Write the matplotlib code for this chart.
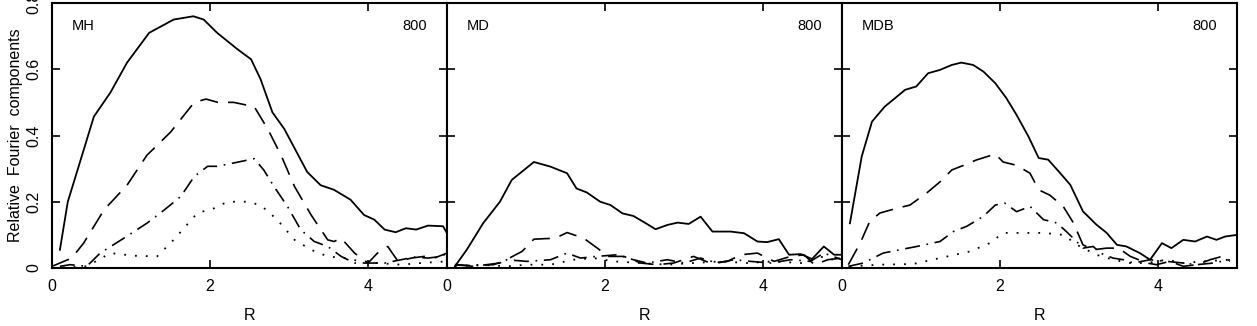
import matplotlib.pyplot as plt
import numpy as np

plt.rcParams['font.family'] = ['Liberation Sans', 'DejaVu Sans']

# ---- data (R, relative Fourier amplitude) ----
# MH
mh_solid_r = [0.1, 0.2, 0.38, 0.53, 0.74, 0.95, 1.23, 1.54, 1.79, 1.92, 2.09, 2.35, 2.52, 2.64,
              2.79, 2.94, 3.23, 3.40, 3.57, 3.78, 3.95, 4.08, 4.21, 4.35, 4.48, 4.61, 4.76, 4.95, 5.0]
mh_solid_a = [0.055, 0.2, 0.34, 0.457, 0.53, 0.62, 0.71, 0.75, 0.76, 0.75, 0.71, 0.66, 0.63, 0.57,
              0.47, 0.42, 0.29, 0.25, 0.236, 0.206, 0.16, 0.146, 0.116, 0.108, 0.12, 0.116, 0.128, 0.126, 0.105]
mh_dash_r = [0.0, 0.25, 0.4, 0.66, 0.95, 1.2, 1.5, 1.8, 1.95, 2.1, 2.3, 2.56, 2.73, 2.9, 3.07, 3.28,
             3.49, 3.57, 3.66, 3.83, 4.0, 4.12, 4.25, 4.38, 4.55, 4.71, 4.84, 5.0]
mh_dash_a = [0.005, 0.03, 0.075, 0.176, 0.25, 0.34, 0.41, 0.5, 0.51, 0.5, 0.5, 0.487, 0.42, 0.34, 0.246,
             0.16, 0.085, 0.08, 0.09, 0.045, 0.015, 0.045, 0.065, 0.02, 0.03, 0.035, 0.03, 0.045]
mh_dd_r = [0.1, 0.23, 0.44, 0.61, 0.91, 1.2, 1.42, 1.63, 1.8, 1.97, 2.09, 2.3, 2.56, 2.68, 2.81, 2.98,
           3.15, 3.32, 3.49, 3.66, 3.83, 4.0, 4.21, 4.42, 4.59, 4.76, 4.93, 5.0]
mh_dd_a = [0.005, 0.01, 0.005, 0.045, 0.09, 0.135, 0.175, 0.216, 0.276, 0.307, 0.307, 0.317, 0.33, 0.296,
           0.246, 0.186, 0.115, 0.08, 0.065, 0.035, 0.015, 0.015, 0.015, 0.025, 0.033, 0.03, 0.035, 0.045]
mh_dot_r = [0.0, 0.44, 0.74, 1.04, 1.33, 1.54, 1.84, 2.05, 2.22, 2.47, 2.64, 2.85, 3.07, 3.28, 3.49,
            3.7, 3.91, 4.12, 4.42, 4.67, 5.0]
mh_dot_a = [0.0, 0.005, 0.045, 0.037, 0.035, 0.085, 0.166, 0.18, 0.2, 0.2, 0.19, 0.146, 0.085, 0.055,
            0.035, 0.03, 0.02, 0.015, 0.01, 0.015, 0.02]

# MD
md_solid_r = [0.1, 0.25, 0.46, 0.67, 0.82, 1.1, 1.31, 1.52, 1.64, 1.77, 1.94, 2.07, 2.22, 2.36, 2.51,
              2.64, 2.79, 2.92, 3.06, 3.21, 3.36, 3.59, 3.76, 3.93, 4.05, 4.2, 4.33, 4.48, 4.62, 4.77, 4.9, 5.0]
md_solid_a = [0.005, 0.055, 0.136, 0.2, 0.266, 0.32, 0.306, 0.286, 0.24, 0.228, 0.2, 0.19, 0.165, 0.157,
              0.136, 0.117, 0.13, 0.137, 0.133, 0.155, 0.11, 0.11, 0.105, 0.08, 0.078, 0.087, 0.04, 0.042,
              0.027, 0.065, 0.04, 0.04]
md_dash_r = [0.1, 0.33, 0.67, 0.95, 1.1, 1.37, 1.52, 1.73, 1.92, 2.03, 2.24, 2.45, 2.66, 2.87, 3.12, 3.33,
             3.55, 3.72, 3.93, 4.14, 4.35, 4.52, 4.65, 4.82, 5.0]
md_dash_a = [0.01, 0.005, 0.015, 0.05, 0.087, 0.09, 0.107, 0.09, 0.057, 0.035, 0.035, 0.015, 0.01, 0.015,
             0.035, 0.015, 0.02, 0.04, 0.045, 0.02, 0.035, 0.04, 0.01, 0.025, 0.03]
md_dd_r = [0.1, 0.33, 0.59, 0.76, 1.01, 1.31, 1.52, 1.69, 1.9, 2.15, 2.36, 2.53, 2.79, 3.0, 3.21, 3.42,
           3.63, 3.84, 4.1, 4.35, 4.6, 4.77, 5.0]
md_dd_a = [0.01, 0.007, 0.01, 0.025, 0.02, 0.025, 0.045, 0.03, 0.035, 0.04, 0.025, 0.015, 0.025, 0.015,
           0.03, 0.015, 0.025, 0.02, 0.015, 0.025, 0.02, 0.045, 0.025]
md_dot_r = [0.1, 0.42, 0.76, 1.01, 1.31, 1.6, 1.86, 2.11, 2.45, 2.79, 3.12, 3.46, 3.8, 4.14, 4.48, 4.77, 5.0]
md_dot_a = [0.005, 0.01, 0.005, 0.01, 0.01, 0.025, 0.03, 0.02, 0.015, 0.01, 0.015, 0.02, 0.015, 0.02,
            0.015, 0.035, 0.015]

# MDB
mdb_solid_r = [0.1, 0.25, 0.38, 0.54, 0.8, 0.94, 1.09, 1.24, 1.39, 1.51, 1.66, 1.79, 1.94, 2.08, 2.21,
               2.36, 2.49, 2.61, 2.76, 2.89, 3.05, 3.22, 3.35, 3.48, 3.6, 3.77, 3.9, 4.05, 4.17, 4.32,
               4.47, 4.62, 4.74, 4.85, 5.0]
mdb_solid_a = [0.135, 0.337, 0.442, 0.487, 0.538, 0.548, 0.588, 0.598, 0.613, 0.62, 0.613, 0.593, 0.558,
               0.513, 0.462, 0.397, 0.332, 0.327, 0.287, 0.251, 0.171, 0.131, 0.106, 0.07, 0.065, 0.045,
               0.025, 0.075, 0.06, 0.085, 0.08, 0.095, 0.085, 0.095, 0.1]
mdb_dash_r = [0.08, 0.23, 0.35, 0.48, 0.69, 0.86, 1.07, 1.24, 1.39, 1.54, 1.7, 1.94, 2.04, 2.21, 2.38,
              2.49, 2.63, 2.8, 2.93, 3.05, 3.18, 3.35, 3.5, 3.65, 3.86, 3.98, 4.15, 4.32, 4.49, 4.66,
              4.81, 4.91]
mdb_dash_a = [0.01, 0.075, 0.14, 0.166, 0.18, 0.19, 0.226, 0.26, 0.296, 0.31, 0.326, 0.344, 0.32, 0.31,
              0.286, 0.236, 0.22, 0.186, 0.136, 0.07, 0.055, 0.06, 0.06, 0.035, 0.015, 0.01, 0.02, 0.005,
              0.01, 0.025, 0.035, 0.02]
mdb_dd_r = [0.08, 0.27, 0.52, 0.73, 0.99, 1.24, 1.41, 1.58, 1.79, 1.94, 2.06, 2.21, 2.38, 2.55, 2.72,
            2.84, 2.97, 3.05, 3.18, 3.27, 3.43, 3.56, 3.69, 3.9, 4.11, 4.32, 4.49, 4.7, 4.91]
mdb_dd_a = [0.005, 0.015, 0.045, 0.055, 0.067, 0.08, 0.11, 0.126, 0.156, 0.19, 0.196, 0.17, 0.186, 0.146,
            0.136, 0.11, 0.08, 0.06, 0.065, 0.045, 0.03, 0.025, 0.015, 0.025, 0.02, 0.015, 0.01, 0.015, 0.025]
mdb_dot_r = [0.1, 0.48, 0.9, 1.24, 1.62, 1.87, 2.04, 2.3, 2.55, 2.8, 3.01, 3.22, 3.43, 3.65, 3.86, 4.11,
             4.32, 4.57, 4.91]
mdb_dot_a = [0.005, 0.01, 0.012, 0.03, 0.05, 0.075, 0.106, 0.106, 0.106, 0.1, 0.065, 0.04, 0.025, 0.015,
             0.015, 0.025, 0.015, 0.02, 0.025]

panel_names = ['MH', 'MD', 'MDB']
panel_time = '800'
x_ticks = [0, 2, 4]
y_ticks = [0, 0.2, 0.4, 0.6, 0.8]
y_ticklabels = ['0', '0.2', '0.4', '0.6', '0.8']

panels = [
    [(mh_solid_r, mh_solid_a), (mh_dash_r, mh_dash_a), (mh_dd_r, mh_dd_a), (mh_dot_r, mh_dot_a)],
    [(md_solid_r, md_solid_a), (md_dash_r, md_dash_a), (md_dd_r, md_dd_a), (md_dot_r, md_dot_a)],
    [(mdb_solid_r, mdb_solid_a), (mdb_dash_r, mdb_dash_a), (mdb_dd_r, mdb_dd_a), (mdb_dot_r, mdb_dot_a)],
]
styles = [
    dict(linestyle='-', linewidth=1.3),
    dict(linestyle=(0, (11, 6)), linewidth=1.2),
    dict(linestyle=(0, (9, 4, 1, 4)), linewidth=1.2),
    dict(linestyle=(0, (1, 5)), linewidth=1.3),
]

W, H = 1257, 326
fig = plt.figure(figsize=(W / 100, H / 100), dpi=100)

lefts = [52, 447, 842]
width = 395
bottom, top = 268, 3

for i, name in enumerate(panel_names):
    ax = fig.add_axes([lefts[i] / W, 1 - bottom / H, width / W, (bottom - top) / H])
    for (r, a), st in zip(panels[i], styles):
        ax.plot(r, a, color='black', **st)
    ax.set_xlim(0, 5)
    ax.set_ylim(0, 0.8)
    ax.set_xticks(x_ticks)
    ax.set_xticklabels(['0', '2', '4'])
    ax.set_yticks(y_ticks)
    ax.tick_params(direction='in', top=True, right=True, length=6, width=1.2,
                   labelsize=11.5, pad=8)
    for sp in ax.spines.values():
        sp.set_linewidth(1.5)
    if i == 0:
        ax.set_yticklabels(y_ticklabels, rotation=90, va='center')
        ax.set_ylabel('Relative  Fourier  components', fontsize=11.5, labelpad=2)
    else:
        ax.set_yticklabels([])
    ax.set_xlabel('R', fontsize=11.5, labelpad=10)
    ax.text(0.05, 0.915, name, transform=ax.transAxes, fontsize=10.5, ha='left', va='center')
    ax.text(0.95, 0.915, panel_time, transform=ax.transAxes, fontsize=10.5, ha='right', va='center')

fig.savefig('out.png', dpi=100)
